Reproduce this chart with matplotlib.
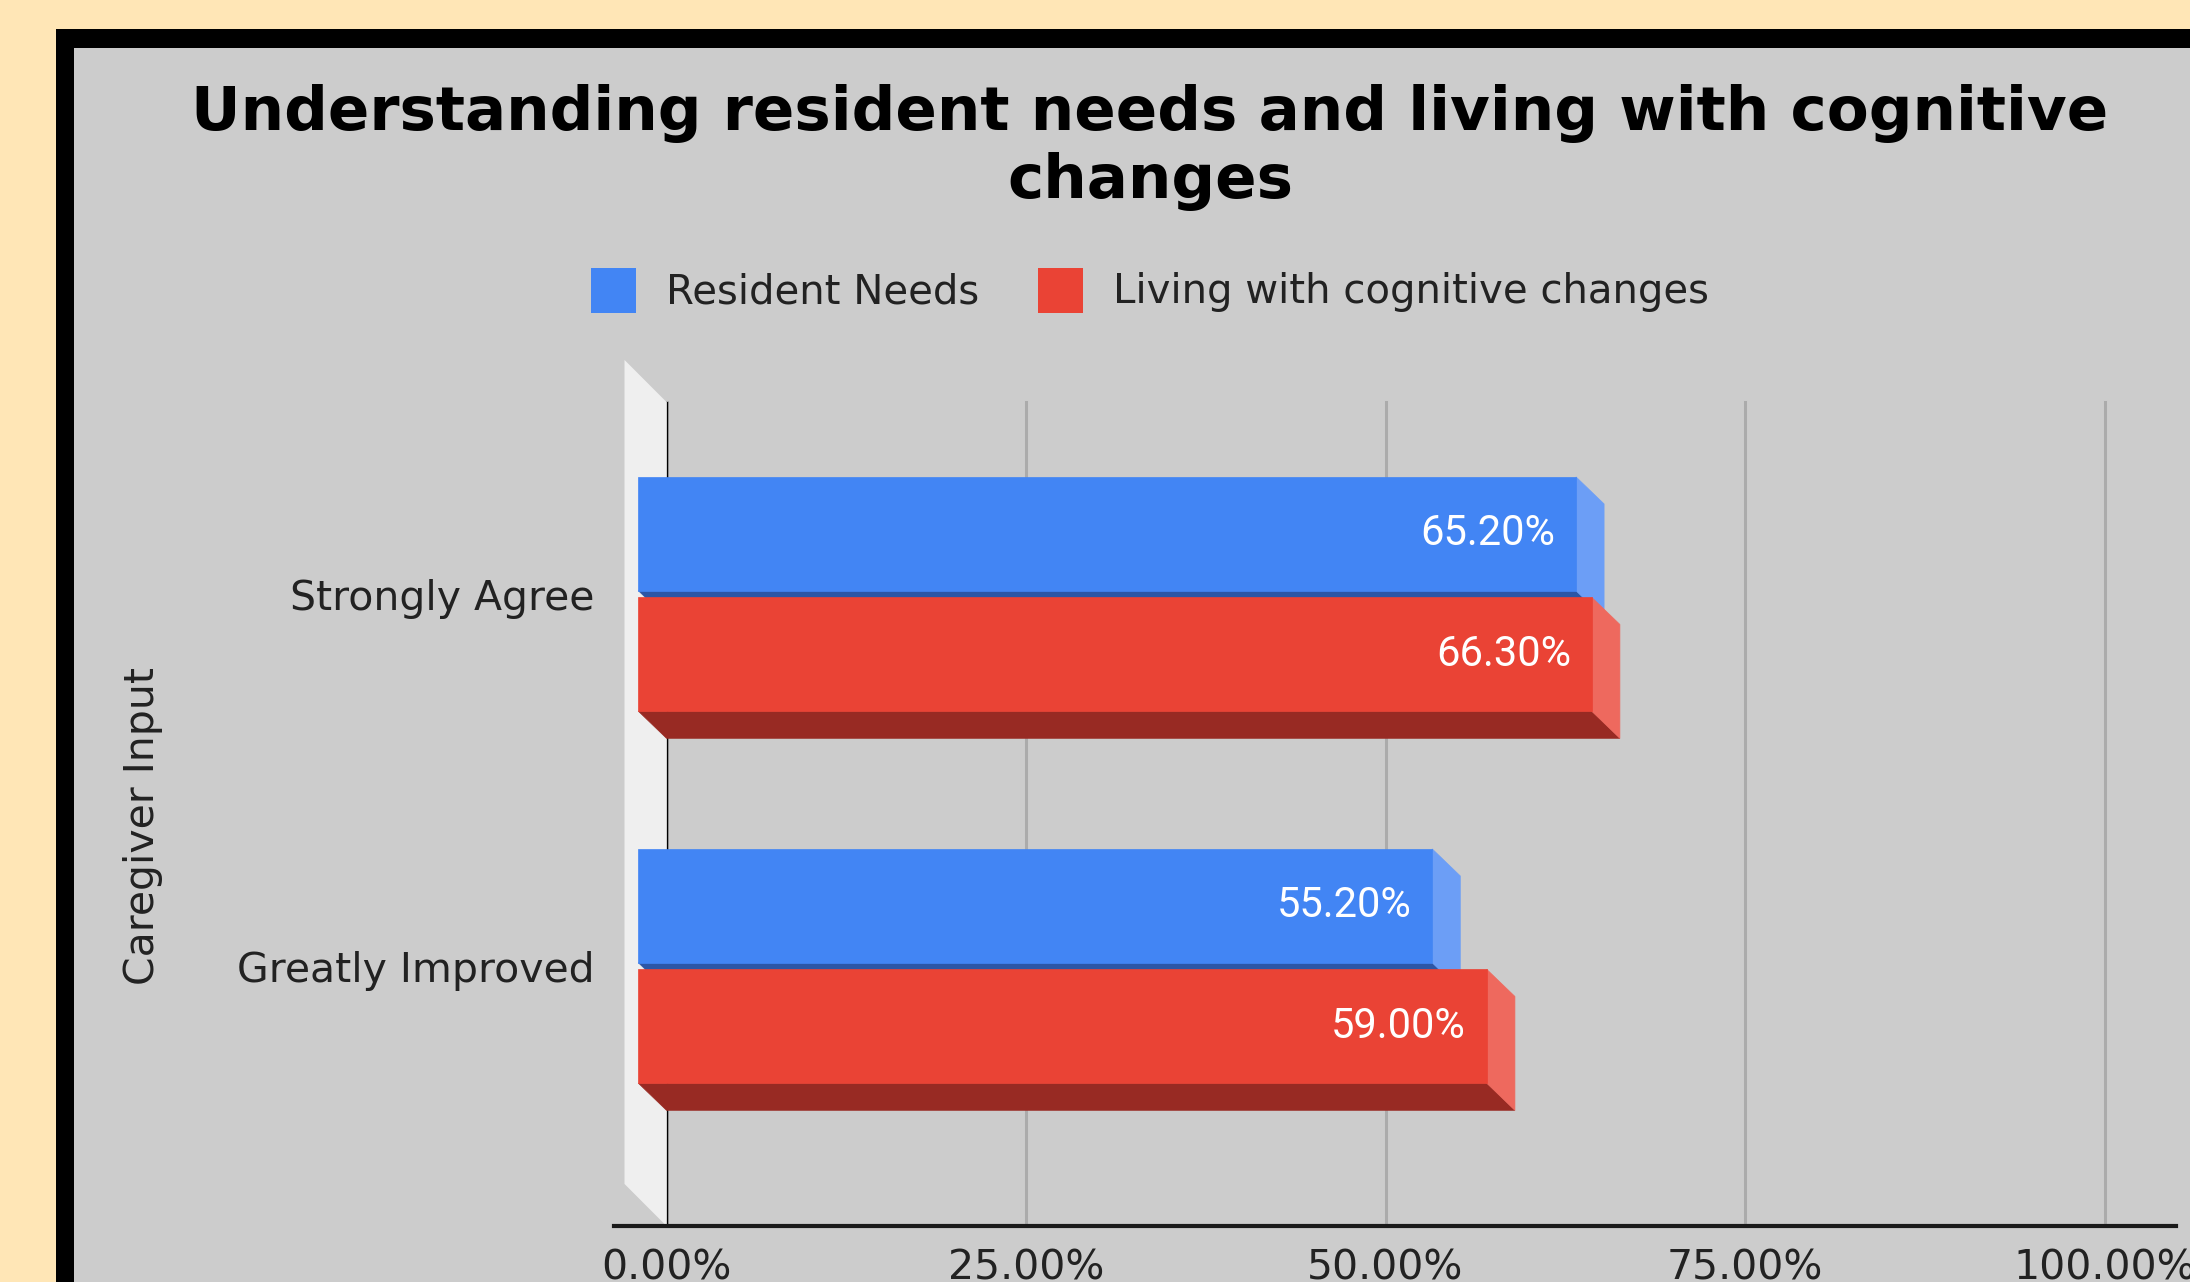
import matplotlib
matplotlib.use("Agg")
import matplotlib.pyplot as plt
from matplotlib.patches import Polygon, Rectangle, Patch

# data
categories = ["Strongly Agree", "Greatly Improved"]
series_names = ["Resident Needs", "Living with cognitive changes"]
resident_needs = [65.2, 55.2]
cognitive_changes = [66.3, 59.0]
x_ticks = [0, 25, 50, 75, 100]
x_tick_labels = ["0.00%", "25.00%", "50.00%", "75.00%", "100.00%"]
title = "Understanding resident needs and living with cognitive\nchanges"
y_title = "Caregiver Input"

# face, side, bottom colours
blue = ("#4285F4", "#6C9EF6", "#2C56A6")
red = ("#EA4335", "#EE695E", "#982A23")

W, H = 2190, 1282
fig = plt.figure(figsize=(W / 100, H / 100), dpi=100)
fig.patch.set_facecolor("#FFE6B6")
fig.patches.append(Rectangle((56 / W, 0), 1, 1 - 29 / H, transform=fig.transFigure,
                             fc="black", ec="none", zorder=-2))
fig.patches.append(Rectangle((74 / W, 0), 1, 1 - 48 / H, transform=fig.transFigure,
                             fc="#CCCCCC", ec="none", zorder=-1))

ax = fig.add_axes([666.5 / W, 1 - 1226 / H, 1438 / W, 824 / H])
ax.patch.set_visible(False)
for s in ax.spines.values():
    s.set_visible(False)
ax.set_xlim(0, 100)
ax.set_ylim(1.626, -0.589)

# fake 3d: offset of front faces and depth of the left wall (data units)
DX, DY = -1.95, -0.0726
WX, WY = -2.92, -0.113
bar_h = 0.306
offsets = [-0.162, 0.162]

y_bot, y_top = ax.get_ylim()
ax.add_patch(Polygon([(WX, y_top + WY), (0, y_top), (0, y_bot), (WX, y_bot + WY)],
                     closed=True, fc="#EFEFEF", ec="none", clip_on=False, zorder=0.8))

ax.set_xticks(x_ticks, x_tick_labels)
ax.grid(axis="x", color="#ABABAB", lw=2.2, zorder=0.5)
for gl in ax.get_xgridlines():
    gl.set_clip_on(False)
ax.set_axisbelow(True)
ax.axvline(0, color="black", lw=1.7, zorder=1.5)
ax.axhline(y_bot, xmin=-0.0365, xmax=1.0497, color="#1A1A1A", lw=3, clip_on=False, zorder=1.6)

ax.set_yticks([i + DY for i in range(len(categories))], categories)
ax.tick_params(axis="y", length=0, pad=52, labelsize=29.5, labelcolor="#222222")
ax.tick_params(axis="x", length=0, pad=16, labelsize=29.5, labelcolor="#222222")

series = [(resident_needs, blue), (cognitive_changes, red)]
for i in range(len(categories)):
    for j, (vals, cols) in enumerate(series):
        v = vals[i]
        top = i + offsets[j] - bar_h / 2
        bot = top + bar_h
        z = 2 + j
        ax.add_patch(Polygon([(DX, bot + DY), (v + DX, bot + DY), (v, bot), (0, bot)],
                             fc=cols[2], ec=cols[2], lw=0.5, zorder=z, clip_on=False))
        ax.add_patch(Polygon([(v + DX, top + DY), (v, top), (v, bot), (v + DX, bot + DY)],
                             fc=cols[1], ec=cols[1], lw=0.5, zorder=z, clip_on=False))
        ax.add_patch(Rectangle((DX, top + DY), v, bar_h, fc=cols[0], ec=cols[0], lw=0.5,
                               zorder=z, clip_on=False))
        ax.text(v + DX - 1.45, top + DY + bar_h / 2, f"{v:.2f}%", ha="right", va="center",
                color="white", fontsize=30, family="Roboto", zorder=z + 0.5)

LF = 29
F = LF * 100 / 72
hh = (45 / F - 0.245) / 0.65
handles = [Patch(fc=blue[0], ec="none"), Patch(fc=red[0], ec="none")]
fig.legend(handles, series_names, loc="center", bbox_to_anchor=(1150 / W, 1 - 290 / H),
           ncol=2, frameon=False, fontsize=LF, labelcolor="#222222",
           handlelength=45 / F, handleheight=hh, handletextpad=30 / F,
           columnspacing=59 / F, borderpad=0)

fig.text(1150 / W, 1 - 84 / H, title, ha="center", va="top", fontsize=44,
         fontweight="bold", linespacing=1.2, color="black")
fig.text(143 / W, 1 - 826 / H, y_title, rotation=90, ha="center", va="center",
         fontsize=29.5, color="#222222")

fig.savefig("out.png", dpi=100, facecolor=fig.get_facecolor())
